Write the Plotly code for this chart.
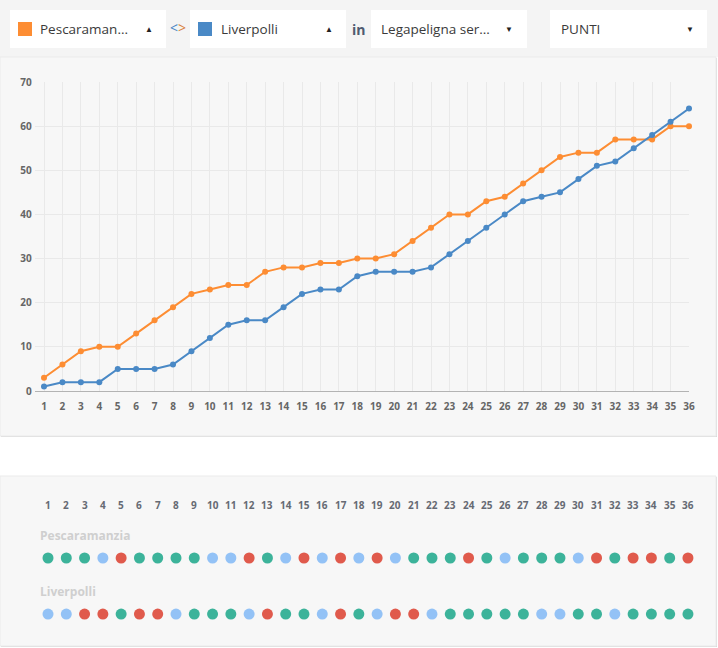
import plotly.graph_objects as go

W, H = 718, 648

matches = list(range(1, 37))
teams = ['Pescaramanzia', 'Liverpolli']
team_colors = ['#fd8d33', '#4a89c6']

# cumulative points per matchday
points_pescaramanzia = [3, 6, 9, 10, 10, 13, 16, 19, 22, 23, 24, 24, 27, 28, 28, 29, 29, 30,
                        30, 31, 34, 37, 40, 40, 43, 44, 47, 50, 53, 54, 54, 57, 57, 57, 60, 60]
points_liverpolli = [1, 2, 2, 2, 5, 5, 5, 6, 9, 12, 15, 16, 16, 19, 22, 23, 23, 26,
                     27, 27, 27, 28, 31, 34, 37, 40, 43, 44, 45, 48, 51, 52, 55, 58, 61, 64]

# match results (W win, D draw, L loss)
results_pescaramanzia = list('WWWDLWWWWDDLWDLDLDLDWWWLWDWWWDLWLLWL')
results_liverpolli = list('DDLLWLLDWWWDLWWDLWDLLDWWWWWDDWWDWWWW')
result_colors = {'W': '#3cb39a', 'D': '#93c2f6', 'L': '#e05a4c'}

y_ticks = list(range(0, 71, 10))


def px(x):
    return x / W


def py(y):
    return 1 - y / H


def rect(x0, y0, x1, y1, fill, line=None, width=0):
    return dict(type='rect', xref='paper', yref='paper',
                x0=px(x0), x1=px(x1), y0=py(y1), y1=py(y0),
                fillcolor=fill, line=dict(color=line or fill, width=width), layer='below')


fig = go.Figure()

series = [points_pescaramanzia, points_liverpolli]
for name, vals, col in zip(teams, series, team_colors):
    fig.add_trace(go.Scatter(
        x=matches, y=vals, name=name, mode='lines+markers',
        line=dict(color=col, width=2), marker=dict(color=col, size=6),
        xaxis='x', yaxis='y', hoverinfo='skip', cliponaxis=False))

for name, res in zip(teams, [results_pescaramanzia, results_liverpolli]):
    fig.add_trace(go.Scatter(
        x=matches, y=[name] * len(res), mode='markers',
        marker=dict(color=[result_colors[r] for r in res], size=11),
        xaxis='x2', yaxis='y2', hoverinfo='skip'))

shapes = [
    rect(0, 0, W, 57, '#f4f4f4'),
    rect(1, 58, 717, 437, '#dadada'),
    rect(0, 57, 716, 436, '#f7f7f7', '#ebebeb', 1),
    rect(1, 477, 717, 647, '#dadada'),
    rect(0, 476, 716, 646, '#f7f7f7', '#ebebeb', 1),
]
# selector boxes
boxes = [(10, 166), (190, 346), (371, 527), (550, 707)]
for x0, x1 in boxes:
    shapes.append(rect(x0, 10, x1, 48, '#ffffff'))
shapes.append(rect(18, 22, 32, 36, team_colors[0]))
shapes.append(rect(198, 22, 212, 36, team_colors[1]))

annotations = []


def label(x, y, text, size=13.5, color='#333333', anchor='left', bold=False, ref='paper'):
    annotations.append(dict(
        x=x if ref != 'paper' else px(x), y=py(y), xref=ref, yref='paper', text=text,
        showarrow=False, xanchor=anchor, yanchor='middle',
        font=dict(family='Open Sans', size=size, color=color,
                  weight='bold' if bold else 'normal')))


swap = ("<span style='color:#4a89c6'>&lt;</span>"
        "<span style='color:#d9823a'>&gt;</span>")

label(38, 29, 'Pescaraman...', size=13.5, color='#3a3a3a')
label(149, 29, '▲', size=8, color='#222222', anchor='center')
label(177.5, 28, swap, size=14, anchor='center')
label(219, 29, 'Liverpolli', size=13.5, color='#3a3a3a')
label(329, 29, '▲', size=8, color='#222222', anchor='center')
label(358, 30, 'in', size=14, color='#4f5b70', anchor='center', bold=True)
label(379, 29, 'Legapeligna ser...', size=13.5, color='#3a3a3a')
label(509, 29, '▼', size=8, color='#222222', anchor='center')
label(559, 29, 'PUNTI', size=13.5, color='#3a3a3a')
label(690, 29, '▼', size=8, color='#222222', anchor='center')

for m in matches:
    label(m, 505, str(m), size=10, color='#666a73', anchor='center', bold=True, ref='x2')
label(38, 535, teams[0], size=12, color='#cfcfcf', bold=True)
label(38, 591, teams[1], size=12, color='#cfcfcf', bold=True)

fig.update_layout(
    width=W, height=H, margin=dict(l=0, r=0, t=0, b=0, autoexpand=False),
    paper_bgcolor='#ffffff', plot_bgcolor='rgba(0,0,0,0)',
    showlegend=False, shapes=shapes, annotations=annotations,
    font=dict(family='Open Sans'),
    xaxis=dict(domain=[px(34.8), px(689)], range=[0.5, 36], tickvals=matches,
               showgrid=True, gridcolor='#e9e9e9', gridwidth=1, zeroline=False,
               showline=True, linecolor='#b3b3b3', linewidth=1, ticks='',
               ticklabelstandoff=6,
               tickfont=dict(size=10, color='#666666', weight='bold'), fixedrange=True),
    yaxis=dict(domain=[py(391), py(82)], range=[0, 70], tickvals=y_ticks,
               showgrid=True, gridcolor='#e9e9e9', zeroline=False, ticks='',
               ticklabelstandoff=2,
               tickfont=dict(size=10, color='#666666', weight='bold'), fixedrange=True),
    xaxis2=dict(domain=[px(38.86), px(697.1)], range=[0.5, 36.5], visible=False,
                anchor='y2'),
    yaxis2=dict(domain=[py(646), py(476)], type='category',
                categoryarray=[teams[1], teams[0]], range=[-0.571, 2.464],
                visible=False, anchor='x2'),
)

fig.write_html('out.html', config={'displayModeBar': False, 'staticPlot': True},
               post_script="document.body.style.margin='0';"
                           "document.body.style.overflow='hidden';")
